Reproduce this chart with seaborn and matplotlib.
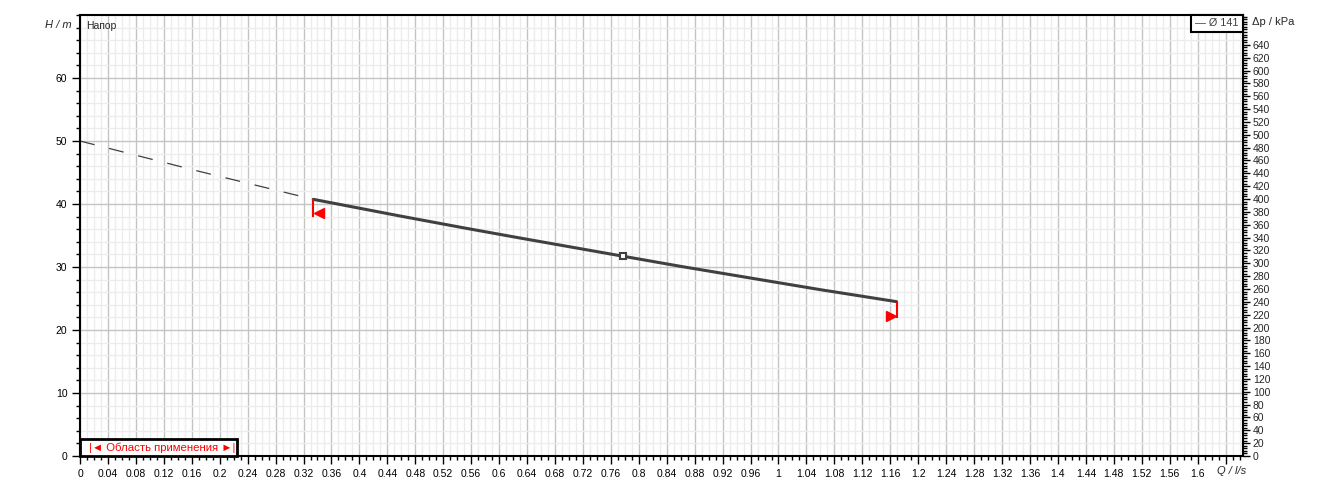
import numpy as np
import pandas as pd
import matplotlib
matplotlib.use("Agg")
import matplotlib.pyplot as plt
import seaborn as sns
from matplotlib.ticker import MultipleLocator
from matplotlib.patches import Rectangle

# pump curve data
q_dash = [0.0, 0.17, 0.334]
h_dash = [50.0, 45.2, 40.74]
q_curve = [0.334, 0.458, 0.55, 0.63, 0.778, 0.86, 1.06, 1.169]
h_curve = [40.74, 38.1, 36.2, 34.6, 31.7, 30.1, 26.4, 24.5]
q_duty = [0.778]
h_duty = [31.7]
q_limits = [0.334, 1.169]
legend_label = "Ø 141"
range_label = "|◄ Область применения ►|"

Q_MAX = 1.665
H_MAX = 70
KPA_PER_M = 9.80665

sns.set_theme(style="white")
plt.rcParams['font.family'] = ['Liberation Sans', 'DejaVu Sans']
plt.rcParams['font.size'] = 7.5

fig = plt.figure(figsize=(13.23, 4.90), dpi=100)
ax = fig.add_axes([80 / 1323, 34 / 490, 1163 / 1323, 441 / 490])

# grid
ax.set_xlim(0, Q_MAX)
ax.set_ylim(0, H_MAX)
ax.xaxis.set_major_locator(MultipleLocator(0.04))
ax.xaxis.set_minor_locator(MultipleLocator(0.01))
ax.yaxis.set_major_locator(MultipleLocator(10))
ax.yaxis.set_minor_locator(MultipleLocator(2))
ax.grid(which="minor", color="#ececec", lw=1)
ax.grid(which="major", color="#c4c4c4", lw=1)
ax.set_axisbelow(True)

for s in ax.spines.values():
    s.set_color("black")
    s.set_linewidth(1.5)

# curves
dash_df = pd.DataFrame({"Q": q_dash, "H": h_dash})
curve_df = pd.DataFrame({"Q": q_curve, "H": h_curve})
sns.lineplot(data=dash_df, x="Q", y="H", ax=ax, color="#404040", lw=0.9,
             linestyle=(0, (12, 12)), sort=False)
sns.lineplot(data=curve_df, x="Q", y="H", ax=ax, color="#404040", lw=2.2, sort=False)
ax.plot(q_duty, h_duty, marker="s", ms=5, mfc="white", mec="#404040", mew=1.5, ls="none")

# range limits
ax.vlines(q_limits[0], h_curve[0] - 2.8, h_curve[0], color="red", lw=1.5)
ax.vlines(q_limits[1], h_curve[-1] - 2.6, h_curve[-1], color="red", lw=1.5)
ax.plot(q_limits[0] + 0.008, h_curve[0] - 2.2, marker="<", color="red", ms=7, ls="none")
ax.plot(q_limits[1] - 0.008, h_curve[-1] - 2.3, marker=">", color="red", ms=7, ls="none")

# ticks
ax.tick_params(axis="both", which="major", length=6, width=1, color="black",
               labelsize=7.5, labelcolor="black", pad=3, direction="out")
ax.tick_params(axis="both", which="minor", length=3, width=1, color="black", direction="out")
ax.tick_params(bottom=True, left=True, which="both")
xt = np.arange(0, 1.6401, 0.04)
ax.set_xticks(xt)
ax.set_xticklabels([f"{v:.2f}".rstrip("0").rstrip(".") for v in xt[:-1]] + [""])
yt = np.arange(0, 61, 10)
ax.set_yticks(yt)
ax.set_yticklabels([str(int(v)) for v in yt])
ax.set_xlabel("")
ax.set_ylabel("")

# right axis in kPa
ax2 = ax.twinx()
ax2.set_ylim(0, H_MAX * KPA_PER_M)
ax2.yaxis.set_major_locator(MultipleLocator(20))
ax2.yaxis.set_minor_locator(MultipleLocator(4))
pt = np.arange(0, 641, 20)
ax2.set_yticks(pt)
ax2.set_yticklabels([str(int(v)) for v in pt])
ax2.tick_params(axis="y", which="major", length=5, width=1, color="black",
                labelsize=7.5, pad=2, direction="out")
ax2.tick_params(axis="y", which="minor", length=3, width=1, color="black", direction="out")
ax2.tick_params(right=True, which="both")
ax2.grid(False)
for s in ax2.spines.values():
    s.set_visible(False)

# axis titles
fig.text(72 / 1323, 1 - 25 / 490, "H / m", ha="right", va="center", fontsize=8, style="italic")
ax.text(0.005, 0.975, "Напор", transform=ax.transAxes, ha="left", va="center", fontsize=7.5)
fig.text(1252 / 1323, 1 - 22 / 490, "Δp / kPa", ha="left", va="center", fontsize=8)
fig.text(1232 / 1323, 1 - 471 / 490, "Q / l/s", ha="center", va="center", fontsize=8, style="italic")

# legend box
lw_px = 52 / 1163
lh_px = 17 / 441
ax.add_patch(Rectangle((1 - lw_px, 1 - lh_px), lw_px, lh_px, transform=ax.transAxes,
                       fc="white", ec="black", lw=1.5, zorder=5, clip_on=False))
ax.text(1 - lw_px / 2, 1 - lh_px / 2, "— " + legend_label, transform=ax.transAxes,
        ha="center", va="center", fontsize=7.8, color="#404040", zorder=6)

# application range box
bw = 157 / 1163
bh = 17 / 441
ax.add_patch(Rectangle((0, 0), bw, bh, transform=ax.transAxes,
                       fc="white", ec="black", lw=2, zorder=5, clip_on=False))
ax.text(bw / 2 + 0.003, bh / 2, range_label, transform=ax.transAxes, ha="center", va="center",
        fontsize=8.2, color="red", zorder=6)

fig.savefig("out.png", dpi=100)
